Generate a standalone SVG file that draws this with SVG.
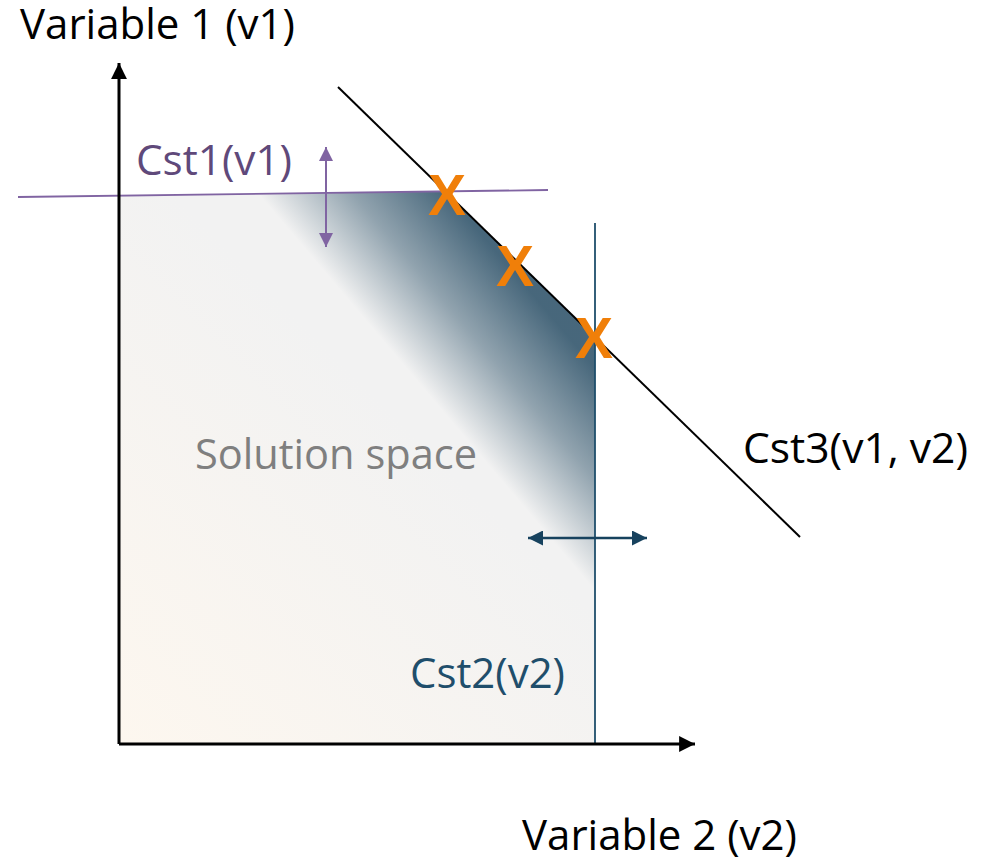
<svg xmlns="http://www.w3.org/2000/svg" width="982" height="863" viewBox="0 0 982 863">
  <defs>
    <style>
      text { font-family: "Open Sans", "Liberation Sans", sans-serif; font-size: 42px; }
      .lbl { fill: #000000; }
      .cst1 { fill: #5f497a; }
      .cst2 { fill: #1f4e6b; }
      .sol { fill: #7f7f7f; }
      .xmark { fill: #f07f09; font-family: "Liberation Sans", "Open Sans", sans-serif; font-weight: bold; font-size: 57px; text-anchor: middle; }
      .axis { stroke: #000000; stroke-width: 3; fill: none; }
    </style>
    <linearGradient id="baseFill" gradientUnits="userSpaceOnUse" x1="119" y1="744" x2="420" y2="440">
      <stop offset="0" stop-color="#fdf7ef"/>
      <stop offset="1" stop-color="#f2f2f2"/>
    </linearGradient>
    <linearGradient id="band" gradientUnits="userSpaceOnUse" x1="423.9" y1="389" x2="533.8" y2="295.8">
      <stop offset="0" stop-color="#30546b" stop-opacity="0"/>
      <stop offset="0.15" stop-color="#30546b" stop-opacity="0.15"/>
      <stop offset="0.5" stop-color="#30546b" stop-opacity="0.5"/>
      <stop offset="1" stop-color="#30546b" stop-opacity="0.88"/>
    </linearGradient>
    <marker id="axHead" viewBox="0 0 10 10" refX="10" refY="5" markerWidth="5.3" markerHeight="5.3" orient="auto" markerUnits="strokeWidth">
      <path d="M0,0 L10,5 L0,10 z" fill="#000000"/>
    </marker>
    <marker id="pHead" viewBox="0 0 10 10" refX="10" refY="5" markerWidth="8" markerHeight="7" orient="auto-start-reverse" markerUnits="strokeWidth">
      <path d="M0,0 L10,5 L0,10 z" fill="#8064a2"/>
    </marker>
    <marker id="bHead" viewBox="0 0 10 10" refX="10" refY="5" markerWidth="6" markerHeight="6" orient="auto-start-reverse" markerUnits="strokeWidth">
      <path d="M0,0 L10,5 L0,10 z" fill="#17425e"/>
    </marker>
  </defs>

  <g id="solution-space">
    <polygon points="119,196.3 445,191.4 595,337.3 595,744 119,744" fill="url(#baseFill)"/>
    <polygon points="119,196.3 445,191.4 595,337.3 595,744 119,744" fill="url(#band)"/>
    <text class="sol" x="195" y="469" textLength="282" lengthAdjust="spacingAndGlyphs">Solution space</text>
  </g>

  <g id="connectors">
    <line id="cst1-line" x1="18" y1="197" x2="548" y2="190" stroke="#8064a2" stroke-width="1.8"/>
    <line id="cst2-line" x1="595" y1="223" x2="595" y2="744" stroke="#1f4e6b" stroke-width="1.8"/>
    <line id="cst3-line" x1="338" y1="87" x2="800" y2="537" stroke="#000000" stroke-width="2"/>
    <line id="cst1-arrow" x1="326" y1="147" x2="326" y2="247" stroke="#8064a2" stroke-width="2" marker-start="url(#pHead)" marker-end="url(#pHead)"/>
    <line id="cst2-arrow" x1="528" y1="538" x2="647" y2="538" stroke="#17425e" stroke-width="2.5" marker-start="url(#bHead)" marker-end="url(#bHead)"/>
    <line id="y-axis" class="axis" x1="119" y1="744" x2="119" y2="63" marker-end="url(#axHead)"/>
    <line id="x-axis" class="axis" x1="119" y1="744" x2="695" y2="744" marker-end="url(#axHead)"/>
  </g>

  <g id="axis-labels">
    <text id="v1-label" class="lbl" x="20" y="39" textLength="275" lengthAdjust="spacingAndGlyphs">Variable 1 (v1)</text>
    <text id="v2-label" class="lbl" x="522" y="850" textLength="275" lengthAdjust="spacingAndGlyphs">Variable 2 (v2)</text>
  </g>

  <g id="cst1">
    <text class="cst1" x="136" y="175" textLength="156" lengthAdjust="spacingAndGlyphs">Cst1(v1)</text>
  </g>
  <g id="cst2">
    <text class="cst2" x="410" y="688" textLength="155" lengthAdjust="spacingAndGlyphs">Cst2(v2)</text>
  </g>
  <g id="cst3">
    <text class="lbl" x="743" y="463" textLength="225" lengthAdjust="spacingAndGlyphs">Cst3(v1, v2)</text>
  </g>

  <g id="optima">
    <text class="xmark" x="447" y="215">X</text>
    <text class="xmark" x="515" y="286">X</text>
    <text class="xmark" x="594" y="358">X</text>
  </g>
</svg>
